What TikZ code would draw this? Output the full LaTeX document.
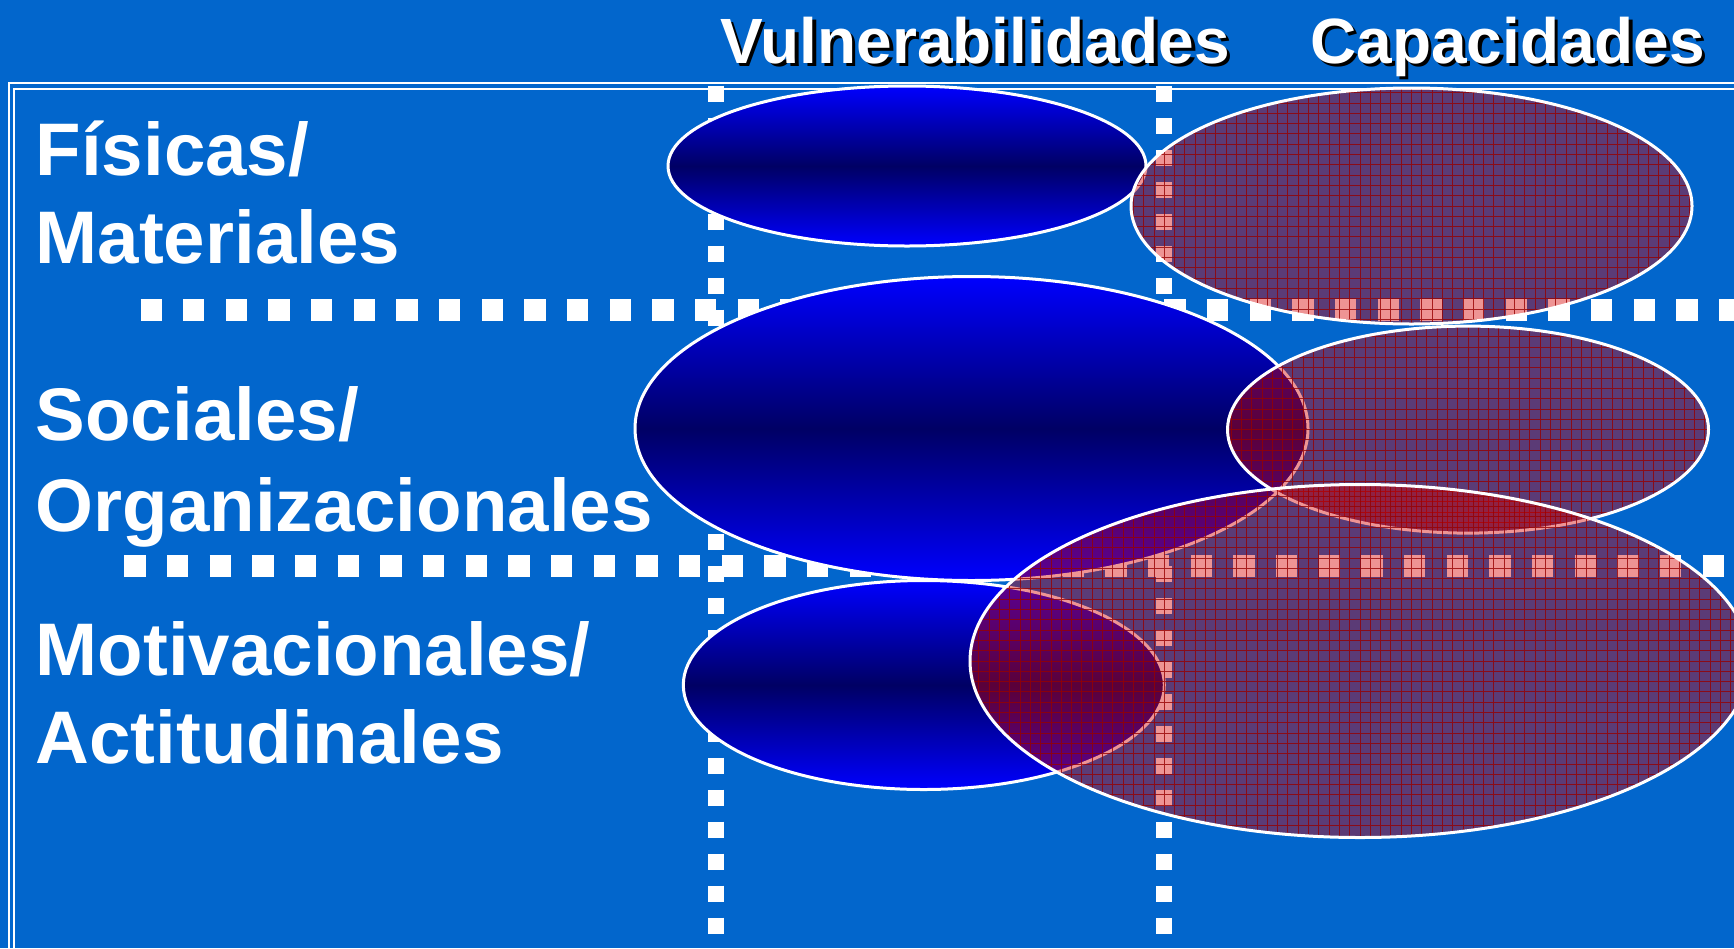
\documentclass[tikz,border=0pt]{standalone}
\usepackage{fontspec}
\setmainfont{Liberation Sans}
\usetikzlibrary{shapes.geometric}
\definecolor{bg}{RGB}{2,102,204}
\definecolor{vblue}{RGB}{0,0,255}
\definecolor{vnavy}{RGB}{0,0,100}
\definecolor{cred}{RGB}{215,0,0}
\definecolor{gridred}{RGB}{150,0,0}
\newcommand{\shadowtext}[1]{\makebox[0pt][l]{\hspace{3.5pt}\raisebox{-3.5pt}{\color{black}#1}}#1}
\tikzset{
  hdots/.style={white, line width=21.3pt, dash pattern=on 21.33pt off 21.33pt},
  vdots/.style={white, line width=16pt, dash pattern=on 16pt off 16pt},
  frameline/.style={white, line width=1.8pt},
  vell/.style={ellipse, draw=white, line width=3pt, inner sep=0pt, outer sep=0pt,
    top color=vblue, bottom color=vblue, middle color=vnavy},
  cell/.style={ellipse, draw=white, line width=3pt, inner sep=0pt, outer sep=0pt,
    fill=cred, fill opacity=0.42,
    path picture={\draw[gridred, line width=1pt, draw opacity=0.8, step=10.3pt]
      (path picture bounding box.south west) grid (path picture bounding box.north east);}},
  lab/.style={text=white, font=\fontsize{74.5}{88}\selectfont\bfseries, anchor=base west, inner sep=0pt},
  hdr/.style={text=white, font=\fontsize{64}{70}\selectfont\bfseries, anchor=base west, inner sep=0pt}
}
\begin{document}
\begin{tikzpicture}[x=1pt,y=-1pt]
\useasboundingbox (0,0) rectangle (1734,948);
\fill[bg] (0,0) rectangle (1734,948);
\clip (0,0) rectangle (1734,948);
% frame
\draw[frameline] (8.8,83.2) rectangle (1770,980);
\draw[frameline] (14.2,89) rectangle (1770,980);
% dotted grid lines
\coordinate (h1a) at (140.5,310);
\coordinate (h1b) at (1770,310);
\coordinate (h2a) at (124.3,566);
\coordinate (h2b) at (1770,566);
\coordinate (v1a) at (716,85.5);
\coordinate (v1b) at (716,980);
\coordinate (v2a) at (1164,86);
\coordinate (v2b) at (1164,980);
\draw[hdots] (h1a) -- (h1b);
\draw[hdots] (h2a) -- (h2b);
\draw[vdots] (v1a) -- (v1b);
\draw[vdots] (v2a) -- (v2b);
% vulnerability ellipses
\node[vell, minimum width=478pt, minimum height=160pt] (vf) at (907,166) {};
\node[vell, minimum width=673pt, minimum height=304pt] (vs) at (971.5,428.5) {};
\node[vell, minimum width=481pt, minimum height=209pt] (vm) at (923.8,685) {};
% capacity ellipses
\node[cell, minimum width=561pt, minimum height=236pt] (cf) at (1411.5,206) {};
\node[cell, minimum width=481pt, minimum height=207pt] (cs) at (1468,429.6) {};
\node[cell, minimum width=780pt, minimum height=353pt] (cm) at (1360,661) {};
% headers
\node[hdr] (vul) at (720,63) {\shadowtext{Vulnerabilidades}};
\node[hdr] (cap) at (1310,63) {\shadowtext{Capacidades}};
% row labels
\node[lab] (l1) at (35.5,175) {Físicas/};
\node[lab] (l2) at (35.5,263) {Materiales};
\node[lab] (l3) at (35.5,440) {Sociales/};
\node[lab] (l4) at (35.5,531) {Organizacionales};
\node[lab] (l5) at (35.5,675) {Motivacionales/};
\node[lab] (l6) at (35.5,763) {Actitudinales};
\end{tikzpicture}
\end{document}
